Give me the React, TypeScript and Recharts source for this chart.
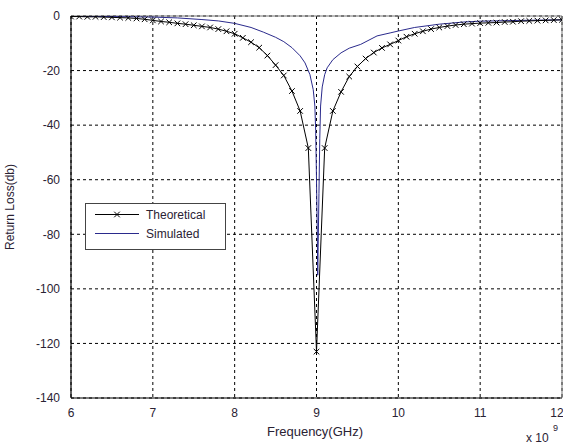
import React from 'react';
import { LineChart, Line, XAxis, YAxis, CartesianGrid, ReferenceLine } from 'recharts';

const theoFreq = [
  6.0, 6.1, 6.2, 6.3, 6.4, 6.5, 6.6, 6.7, 6.8, 6.9,
  7.0, 7.1, 7.2, 7.3, 7.4, 7.5, 7.6, 7.7, 7.8, 7.9,
  8.0, 8.1, 8.2, 8.3, 8.4, 8.5, 8.6, 8.7, 8.8, 8.9,
  9.0, 9.1, 9.2, 9.3, 9.4, 9.5, 9.6, 9.7, 9.8, 9.9,
  10.0, 10.1, 10.2, 10.3, 10.4, 10.5, 10.6, 10.7, 10.8, 10.9,
  11.0, 11.1, 11.2, 11.3, 11.4, 11.5, 11.6, 11.7, 11.8, 11.9, 12.0,
];
const theoLoss = [
  -0.2, -0.2, -0.3, -0.3, -0.4, -0.5, -0.6, -0.7, -0.9, -1.2,
  -1.6, -2.0, -2.3, -2.7, -3.0, -3.4, -3.8, -4.2, -4.8, -5.6,
  -6.5, -8.0, -9.6, -11.6, -14.5, -18.0, -21.8, -27.5, -34.8, -48.4,
  -123, -48.4, -34.8, -27.8, -22.2, -18.5, -15.6, -13.4, -11.7, -10.4,
  -9.0, -7.6, -6.5, -5.6, -4.8, -4.2, -3.7, -3.3, -3.0, -2.8,
  -2.6, -2.5, -2.4, -2.2, -2.1, -1.9, -1.8, -1.7, -1.6, -1.5, -1.4,
];

const simFreq = [
  6.0, 6.5, 7.0, 7.3, 7.6, 7.8, 8.0, 8.2, 8.35, 8.5, 8.6, 8.7, 8.8, 8.86, 8.92,
  8.96, 8.98, 8.99, 9.0, 9.01, 9.015, 9.02, 9.03, 9.04, 9.05, 9.07, 9.1, 9.13,
  9.2, 9.3, 9.4, 9.54, 9.74, 9.9, 10.0, 10.2, 10.5, 10.8, 11.0, 11.5, 12.0,
];
const simLoss = [
  -0.1, -0.2, -0.4, -0.7, -1.3, -1.8, -2.7, -4.2, -5.9, -7.8, -9.4, -11.6, -14.6, -17.2, -21.5,
  -27, -33, -42, -60, -80, -95, -85, -65, -45, -33, -26, -21.5, -19,
  -16, -13.5, -11.8, -10.4, -7.3, -6.2, -5.5, -4.2, -3.0, -2.2, -1.9, -1.6, -1.4,
];

const xTicks = [6, 7, 8, 9, 10, 11, 12];
const yTicks = [0, -20, -40, -60, -80, -100, -120, -140];

const theoData = theoFreq.map((f, i) => ({ f, v: theoLoss[i] }));
const simData = simFreq.map((f, i) => ({ f, v: simLoss[i] }));

const FONT = '"Liberation Sans", Arial, sans-serif';
const TEXT = '#2a2233';
const BLUE = '#2a2a8c';

const XMark = (props: any) => {
  const { cx, cy, index } = props;
  if (cx == null || cy == null) return <g key={`m${index}`} />;
  const s = 2.8;
  return (
    <path
      key={`m${index}`}
      d={`M${cx - s},${cy - s}L${cx + s},${cy + s}M${cx - s},${cy + s}L${cx + s},${cy - s}`}
      stroke="#000"
      strokeWidth={1}
      fill="none"
    />
  );
};

export default function App() {
  return (
    <div style={{ position: 'absolute', left: 0, top: 0, width: 563, height: 446, background: '#fff', fontFamily: FONT, overflow: 'hidden' }}>
      <LineChart width={563} height={446} margin={{ top: 16, right: 1, bottom: 18, left: 0 }}>
        <CartesianGrid stroke="#000" strokeDasharray="3 3" strokeWidth={1} />
        <XAxis
          type="number"
          dataKey="f"
          domain={[6, 12]}
          ticks={xTicks}
          allowDataOverflow
          axisLine={{ stroke: '#000', strokeWidth: 1.2 }}
          tickLine={false}
          tick={{ fill: TEXT, fontSize: 12, fontFamily: FONT }}
          tickMargin={4}
          height={30}
        />
        <YAxis
          type="number"
          domain={[-140, 0]}
          ticks={yTicks}
          allowDataOverflow
          axisLine={{ stroke: '#000', strokeWidth: 1.2 }}
          tickLine={false}
          tick={{ fill: TEXT, fontSize: 12, fontFamily: FONT }}
          tickMargin={5}
          width={71}
        />
        <ReferenceLine y={0} stroke="#777" strokeWidth={1} />
        <ReferenceLine x={12} stroke="#777" strokeWidth={1} />
        <Line
          data={simData}
          dataKey="v"
          type="linear"
          stroke={BLUE}
          strokeWidth={1}
          dot={false}
          isAnimationActive={false}
        />
        <Line
          data={theoData}
          dataKey="v"
          type="linear"
          stroke="#000"
          strokeWidth={1}
          dot={XMark}
          isAnimationActive={false}
        />
      </LineChart>
      <svg width={563} height={446} style={{ position: 'absolute', left: 0, top: 0, pointerEvents: 'none' }}>
        <text x={10} y={207} transform="rotate(-90 10 207)" textAnchor="middle" dominantBaseline="central" fontSize={12} fill={TEXT} fontFamily={FONT}>
          Return Loss(db)
        </text>
        <text x={315} y={436} textAnchor="middle" fontSize={13} fill={TEXT} fontFamily={FONT}>
          Frequency(GHz)
        </text>
        <text x={526} y={442} fontSize={12} fill={TEXT} fontFamily={FONT}>x 10</text>
        <text x={553} y={431} fontSize={9} fill={TEXT} fontFamily={FONT}>9</text>
        <rect x={85.5} y={203.5} width={140} height={46} fill="#fff" stroke="#444" strokeWidth={1} />
        <line x1={95} y1={214.5} x2={139} y2={214.5} stroke="#000" strokeWidth={1} />
        <path d="M114.2,211.7L119.8,217.3M114.2,217.3L119.8,211.7" stroke="#000" strokeWidth={1} fill="none" />
        <text x={146} y={219} fontSize={12} fill={TEXT} fontFamily={FONT}>Theoretical</text>
        <line x1={95} y1={233.5} x2={139} y2={233.5} stroke={BLUE} strokeWidth={1} />
        <text x={146} y={238} fontSize={12} fill={TEXT} fontFamily={FONT}>Simulated</text>
      </svg>
    </div>
  );
}
